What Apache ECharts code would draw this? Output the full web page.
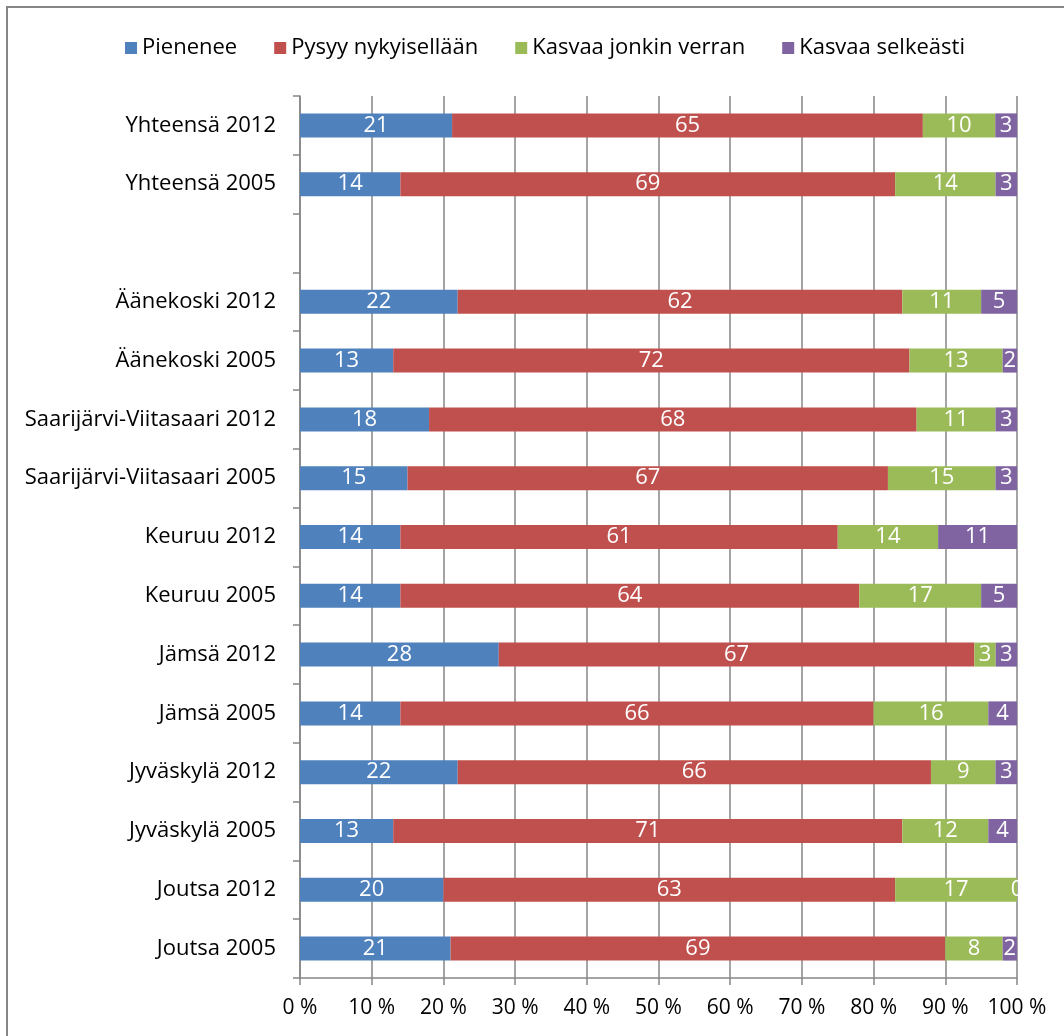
<!DOCTYPE html>
<html>
<head>
<meta charset="utf-8">
<script src="https://cdn.jsdelivr.net/npm/echarts@6/dist/echarts.min.js"></script>
<style>
  html, body { margin: 0; padding: 0; background: #fff; }
  #chart { width: 1064px; height: 1036px; }
</style>
</head>
<body>
<div id="chart"></div>
<script>
// kategoriat ylhäältä alas (tyhjä rivi erottaa yhteensä-rivit)
const categories = [
  'Yhteensä 2012', 'Yhteensä 2005', '',
  'Äänekoski 2012', 'Äänekoski 2005',
  'Saarijärvi-Viitasaari 2012', 'Saarijärvi-Viitasaari 2005',
  'Keuruu 2012', 'Keuruu 2005',
  'Jämsä 2012', 'Jämsä 2005',
  'Jyväskylä 2012', 'Jyväskylä 2005',
  'Joutsa 2012', 'Joutsa 2005'
];
const pienenee  = [21, 14, null, 22, 13, 18, 15, 14, 14, 28, 14, 22, 13, 20, 21];
const pysyy     = [65, 69, null, 62, 72, 68, 67, 61, 64, 67, 66, 66, 71, 63, 69];
const jonkin    = [10, 14, null, 11, 13, 11, 15, 14, 17, 3, 16, 9, 12, 17, 8];
const selkeasti = [3, 3, null, 5, 2, 3, 3, 11, 5, 3, 4, 3, 4, 0, 2];
const xTicks = [0, 10, 20, 30, 40, 50, 60, 70, 80, 90, 100];

const seriesDefs = [
  { name: 'Pienenee', values: pienenee, color: '#4F81BD' },
  { name: 'Pysyy nykyisellään', values: pysyy, color: '#C0504D' },
  { name: 'Kasvaa jonkin verran', values: jonkin, color: '#9BBB59' },
  { name: 'Kasvaa selkeästi', values: selkeasti, color: '#8064A2' }
];

// 100 % pinottu: rivin osuus, label näyttää alkuperäisen arvon
const totals = categories.map((c, i) =>
  seriesDefs.reduce((s, d) => s + (d.values[i] || 0), 0));

const FONT = '"Open Sans", "Noto Sans", sans-serif';

const chart = echarts.init(document.getElementById('chart'));
chart.setOption({
  animation: false,
  textStyle: { fontFamily: FONT },
  graphic: [{
    type: 'rect',
    shape: { x: 7, y: 7, width: 1100, height: 1100 },
    style: { fill: 'none', stroke: '#868686', lineWidth: 2 },
    silent: true
  }],
  legend: {
    top: 32,
    left: 120,
    itemWidth: 12,
    itemHeight: 12,
    itemGap: 37,
    icon: 'rect',
    textStyle: { fontSize: 22, color: '#000', fontFamily: FONT }
  },
  grid: { left: 300, right: 47, top: 96, bottom: 58 },
  xAxis: {
    type: 'value',
    min: xTicks[0],
    max: xTicks[xTicks.length - 1],
    interval: 10,
    axisLine: { show: true, lineStyle: { color: '#868686', width: 1.5 } },
    axisTick: { show: true, length: 7, lineStyle: { color: '#868686', width: 1.5 } },
    splitLine: { show: true, lineStyle: { color: '#868686', width: 1.5 } },
    axisLabel: { formatter: '{value} %', fontSize: 21, color: '#000', margin: 20, fontFamily: FONT }
  },
  yAxis: {
    type: 'category',
    inverse: true,
    data: categories,
    axisLine: { show: true, lineStyle: { color: '#868686', width: 1.5 } },
    axisTick: { show: true, length: 7, lineStyle: { color: '#868686', width: 1.5 } },
    axisLabel: { fontSize: 22, color: '#000', margin: 24, fontFamily: FONT }
  },
  series: seriesDefs.map(d => ({
    name: d.name,
    type: 'bar',
    stack: 'total',
    barWidth: 24,
    itemStyle: { color: d.color },
    label: {
      show: true,
      position: 'inside',
      color: '#fff',
      fontSize: 22,
      fontFamily: FONT,
      formatter: p => p.data.raw
    },
    data: d.values.map((v, i) => v == null ? null
      : { value: v / totals[i] * 100, raw: v })
  }))
});
</script>
</body>
</html>
